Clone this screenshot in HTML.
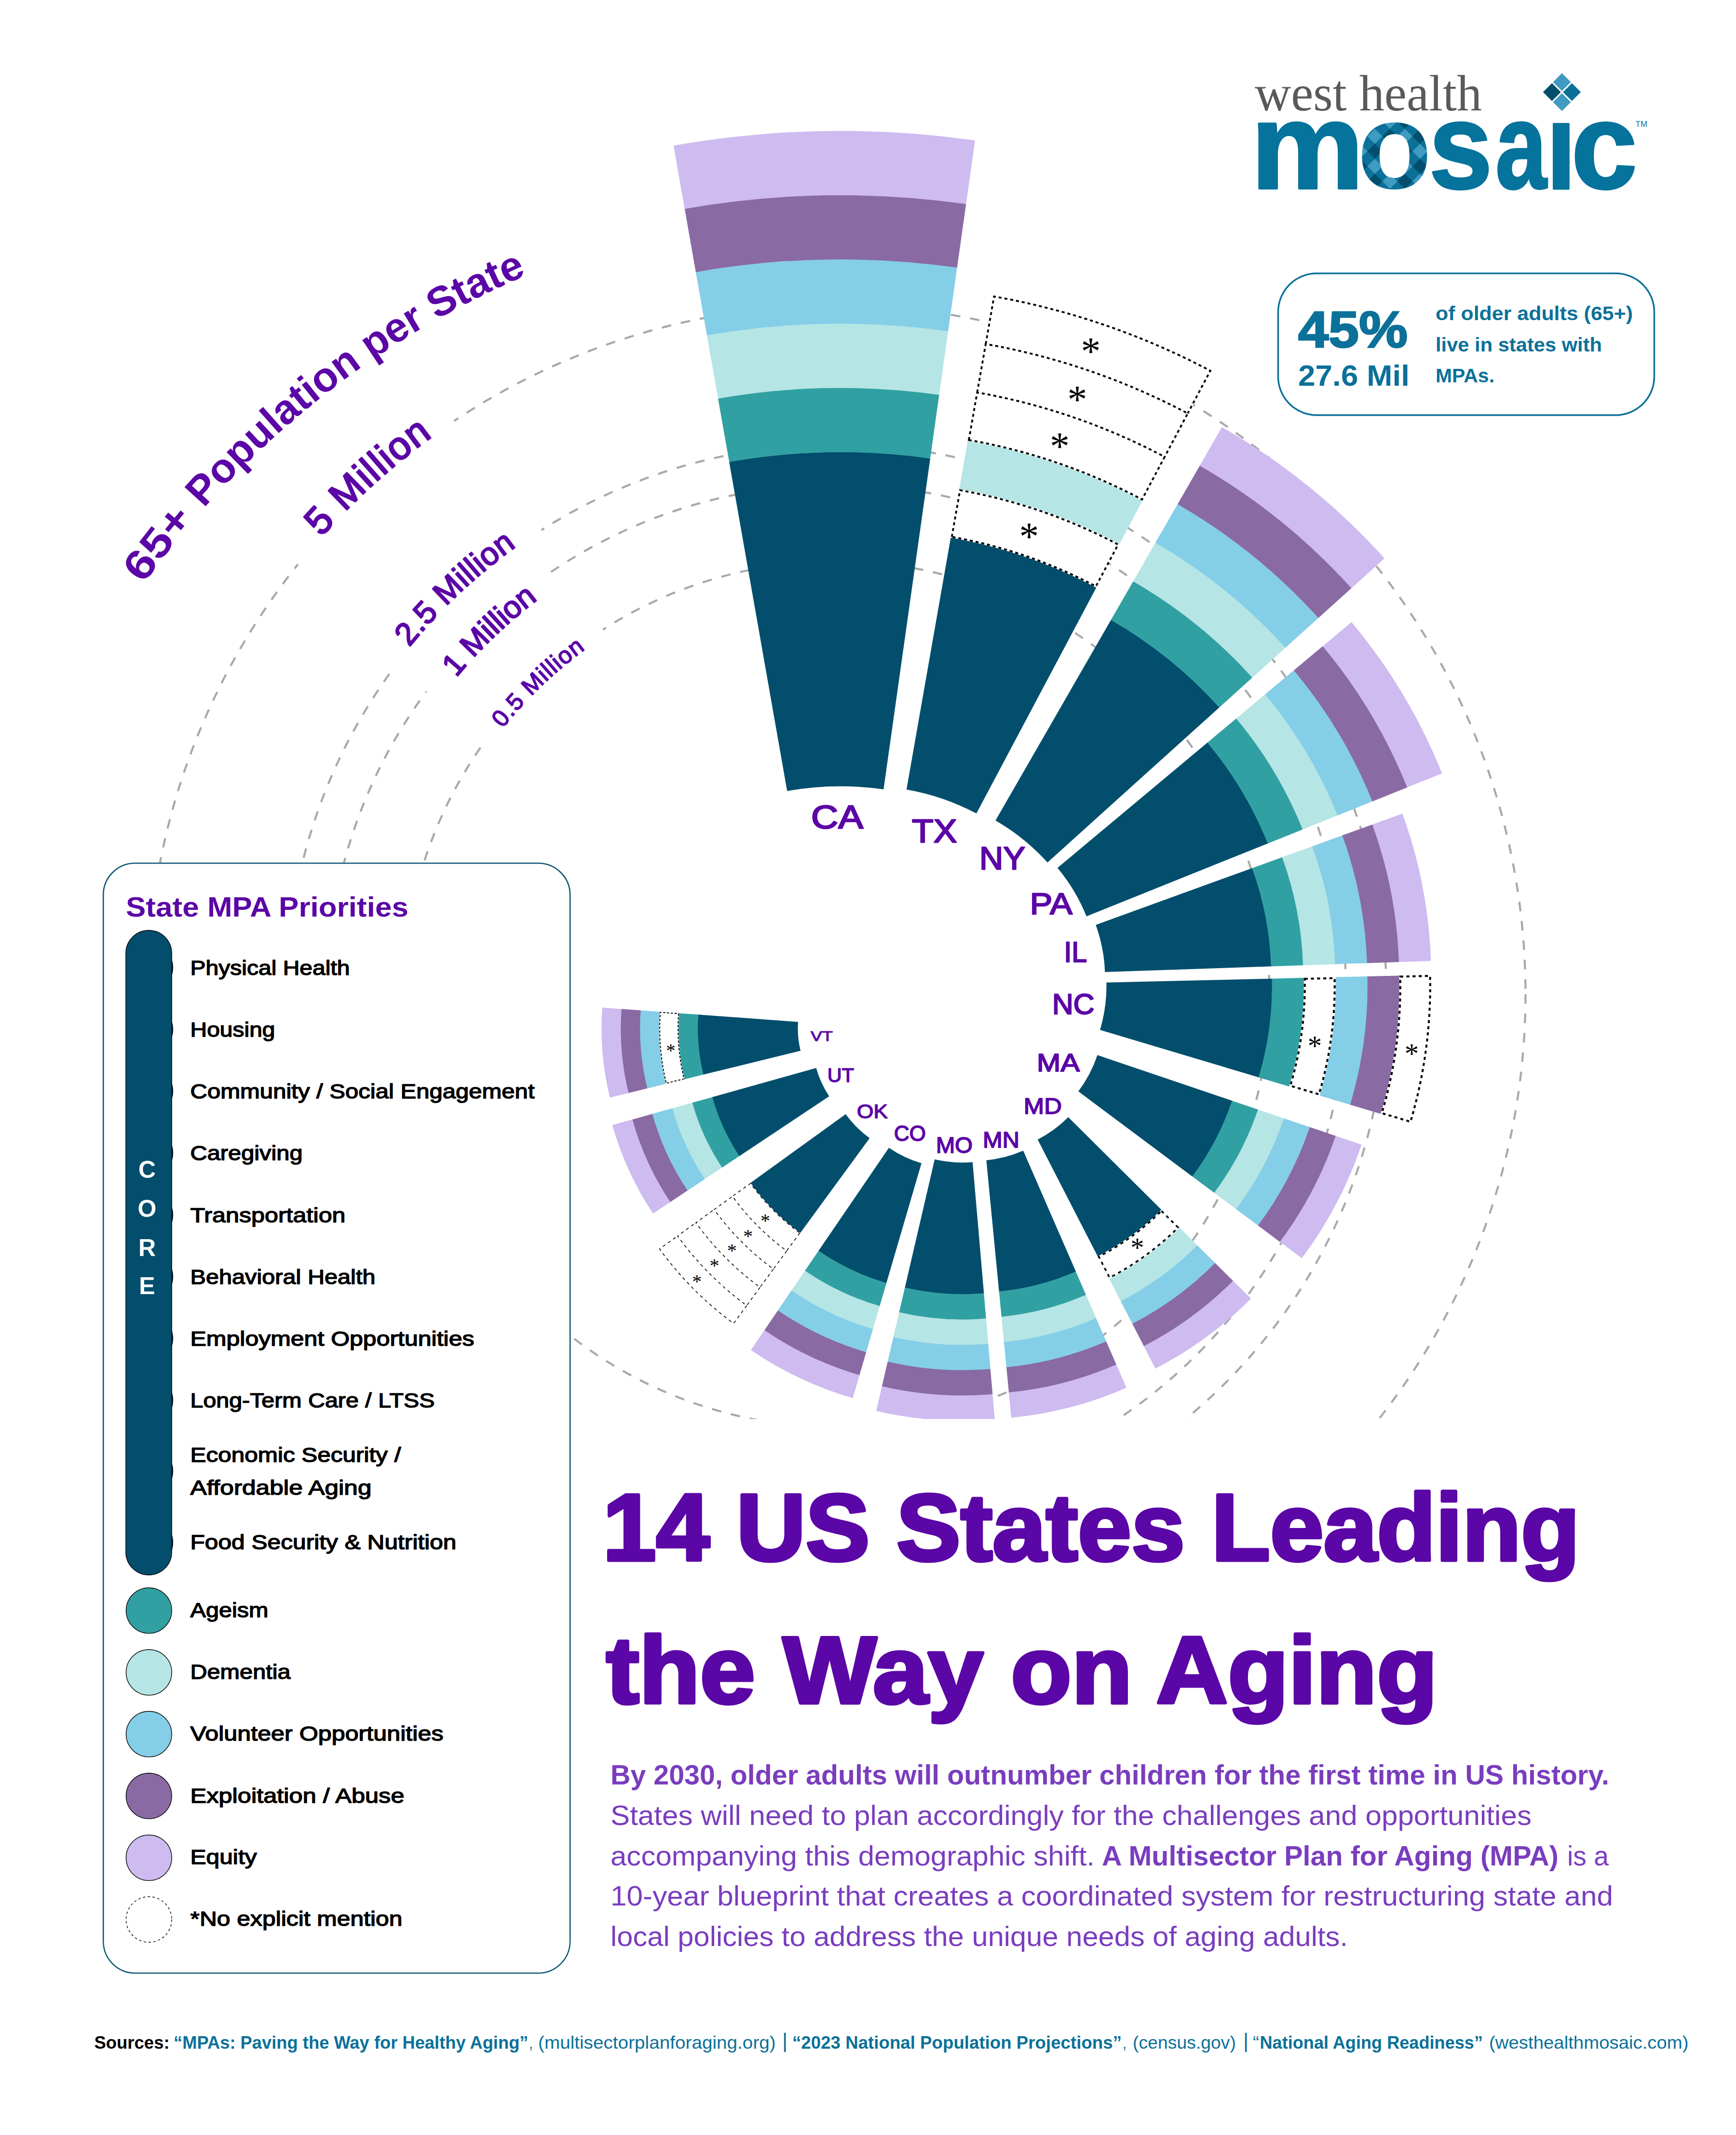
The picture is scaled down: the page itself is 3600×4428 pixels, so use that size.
<!DOCTYPE html>
<html lang="en"><head><meta charset="utf-8"><title>14 US States Leading the Way on Aging</title>
<style>html,body{margin:0;padding:0;background:#fff}svg{display:block}text{font-family:"Liberation Sans",sans-serif}.b{font-weight:bold}.p{fill:#5B06A6}.t{fill:#0B7199}.ast{font-family:"Liberation Serif",serif;fill:#000}.lg{fill:#000;font-size:42px;stroke:#000;stroke-width:1.5px;stroke-linejoin:round}.st{fill:#5B06A6;stroke:#5B06A6;stroke-linejoin:round}.body{fill:#7A3DBE;font-size:58px}.src{fill:#0B7199;font-size:36px}</style></head><body>
<svg width="3600" height="4428" viewBox="0 0 3600 4428">
<defs><clipPath id="clipc"><rect x="0" y="0" width="3600" height="2943"/></clipPath>
<pattern id="chk" width="44" height="44" patternUnits="userSpaceOnUse" patternTransform="translate(2820 236) rotate(45)"><rect width="44" height="44" fill="#0B7199"/><rect width="22" height="22" fill="#3F9BBF"/><rect x="22" y="22" width="22" height="22" fill="#024E6C"/></pattern>
</defs>
<rect width="3600" height="4428" fill="#fff"/>
<g clip-path="url(#clipc)">
<g fill="none" stroke="#A9A9A9" stroke-width="4.3" stroke-dasharray="19.8 20.5">
<circle cx="1734.5" cy="2062.0" r="1429.0"/>
<circle cx="1734.5" cy="2062.0" r="1140.5"/>
<circle cx="1734.5" cy="2062.0" r="1057.0"/>
<circle cx="1734.5" cy="2062.0" r="898.0"/>
</g>
<g>
<path fill="#024E6C" d="M1632.3 1640.4L1512.1 957.7A1332.8 1332.8 0 0 1 1929.1 950.5L1832.3 1637.0A639.6 639.6 0 0 0 1632.3 1640.4Z"/>
<path fill="#31A0A3" d="M1512.2 958.1L1489.0 826.4A1466.0 1466.0 0 0 1 1947.6 818.6L1929.0 950.9A1332.4 1332.4 0 0 0 1512.2 958.1Z"/>
<path fill="#B5E5E4" d="M1489.1 826.8L1465.9 695.2A1599.3 1599.3 0 0 1 1966.2 686.7L1947.6 819.0A1465.6 1465.6 0 0 0 1489.1 826.8Z"/>
<path fill="#84CEE8" d="M1466.0 695.6L1442.8 564.0A1732.5 1732.5 0 0 1 1984.8 554.7L1966.2 687.1A1598.9 1598.9 0 0 0 1466.0 695.6Z"/>
<path fill="#8A6AA3" d="M1442.9 564.4L1419.8 432.8A1865.8 1865.8 0 0 1 2003.4 422.8L1984.8 555.1A1732.1 1732.1 0 0 0 1442.9 564.4Z"/>
<path fill="#CEBBEF" d="M1419.8 433.2L1396.7 301.9A1998.6 1998.6 0 0 1 2021.9 291.2L2003.4 423.2A1865.4 1865.4 0 0 0 1419.8 433.2Z"/>
</g>
<g>
<path fill="#024E6C" d="M1879.9 1637.4L1971.7 1114.6A1020.4 1020.4 0 0 1 2273.6 1218.3L2024.8 1687.1A489.6 489.6 0 0 0 1879.9 1637.4Z"/>
<path fill="#B5E5E4" d="M1989.3 1014.5L2007.0 913.7A1224.4 1224.4 0 0 1 2369.3 1038.1L2321.3 1128.6A1122.0 1122.0 0 0 0 1989.3 1014.5Z"/>
<path fill="#fff" d="M1971.6 1115.0L1989.3 1014.5A1122.0 1122.0 0 0 1 2321.3 1128.6L2273.4 1218.7A1020.0 1020.0 0 0 0 1971.6 1115.0Z"/>
<path fill="#fff" d="M2006.9 914.0L2024.5 813.6A1326.0 1326.0 0 0 1 2416.9 948.4L2369.1 1038.5A1224.0 1224.0 0 0 0 2006.9 914.0Z"/>
<path fill="#fff" d="M2024.5 813.6L2042.2 713.1A1428.0 1428.0 0 0 1 2464.7 858.3L2416.9 948.4A1326.0 1326.0 0 0 0 2024.5 813.6Z"/>
<path fill="#fff" d="M2042.2 713.1L2059.8 612.7A1530.0 1530.0 0 0 1 2512.5 768.2L2464.7 858.3A1428.0 1428.0 0 0 0 2042.2 713.1Z"/>
<path fill="none" stroke="#000" stroke-width="3.8" stroke-dasharray="6.2 6.0" d="M1973.8 1113.4L1990.8 1016.7A1120.1 1120.1 0 0 1 2318.7 1129.4L2272.6 1216.1A1021.9 1021.9 0 0 0 1973.8 1113.4ZM2009.1 912.5L2026.4 813.9A1326.0 1326.0 0 0 1 2415.2 947.5L2368.3 1035.9A1225.9 1225.9 0 0 0 2009.1 912.5ZM2026.4 813.9L2044.1 713.5A1428.0 1428.0 0 0 1 2463.0 857.4L2415.2 947.5M2044.1 713.5L2061.4 614.9A1528.1 1528.1 0 0 1 2510.0 769.0L2463.0 857.4"/>
<text x="2133.9" y="1140.2" font-size="82" text-anchor="middle" class="ast">*</text>
<text x="2197.4" y="953.1" font-size="82" text-anchor="middle" class="ast">*</text>
<text x="2233.9" y="856.4" font-size="82" text-anchor="middle" class="ast">*</text>
<text x="2262.0" y="756.4" font-size="82" text-anchor="middle" class="ast">*</text>
</g>
<g>
<path fill="#024E6C" d="M2064.4 1701.7L2304.0 1285.4A923.4 923.4 0 0 1 2528.8 1467.0L2172.2 1788.8A443.0 443.0 0 0 0 2064.4 1701.7Z"/>
<path fill="#31A0A3" d="M2303.8 1285.8L2350.1 1205.5A1015.7 1015.7 0 0 1 2597.3 1405.1L2528.5 1467.3A923.0 923.0 0 0 0 2303.8 1285.8Z"/>
<path fill="#B5E5E4" d="M2349.9 1205.8L2396.1 1125.5A1108.0 1108.0 0 0 1 2665.8 1343.3L2597.0 1405.4A1015.3 1015.3 0 0 0 2349.9 1205.8Z"/>
<path fill="#84CEE8" d="M2395.9 1125.8L2442.2 1045.5A1200.3 1200.3 0 0 1 2734.3 1281.5L2665.5 1343.6A1107.6 1107.6 0 0 0 2395.9 1125.8Z"/>
<path fill="#8A6AA3" d="M2442.0 1045.8L2488.2 965.5A1292.6 1292.6 0 0 1 2802.8 1219.6L2734.0 1281.7A1199.9 1199.9 0 0 0 2442.0 1045.8Z"/>
<path fill="#CEBBEF" d="M2488.0 965.8L2534.1 885.8A1384.5 1384.5 0 0 1 2871.1 1158.0L2802.5 1219.9A1292.2 1292.2 0 0 0 2488.0 965.8Z"/>
</g>
<g>
<path fill="#024E6C" d="M2192.9 1800.1L2504.1 1539.9A779.6 779.6 0 0 1 2629.3 1749.2L2253.0 1900.5A374.0 374.0 0 0 0 2192.9 1800.1Z"/>
<path fill="#31A0A3" d="M2503.8 1540.2L2563.9 1489.9A857.5 857.5 0 0 1 2701.6 1720.2L2629.0 1749.4A779.2 779.2 0 0 0 2503.8 1540.2Z"/>
<path fill="#B5E5E4" d="M2563.6 1490.2L2623.6 1440.0A935.4 935.4 0 0 1 2773.9 1691.1L2701.3 1720.3A857.1 857.1 0 0 0 2563.6 1490.2Z"/>
<path fill="#84CEE8" d="M2623.3 1440.2L2683.4 1390.0A1013.4 1013.4 0 0 1 2846.2 1662.0L2773.6 1691.2A935.0 935.0 0 0 0 2623.3 1440.2Z"/>
<path fill="#8A6AA3" d="M2683.1 1390.2L2743.2 1340.0A1091.3 1091.3 0 0 1 2918.5 1633.0L2845.9 1662.2A1013.0 1013.0 0 0 0 2683.1 1390.2Z"/>
<path fill="#CEBBEF" d="M2742.9 1340.3L2802.7 1290.3A1168.8 1168.8 0 0 1 2990.5 1604.1L2918.2 1633.1A1090.9 1090.9 0 0 0 2742.9 1340.3Z"/>
</g>
<g>
<path fill="#024E6C" d="M2272.3 1918.2L2596.9 1800.4A663.6 663.6 0 0 1 2636.3 2004.2L2291.3 2016.0A318.3 318.3 0 0 0 2272.3 1918.2Z"/>
<path fill="#31A0A3" d="M2596.5 1800.5L2659.2 1777.8A729.9 729.9 0 0 1 2702.6 2002.0L2635.9 2004.2A663.2 663.2 0 0 0 2596.5 1800.5Z"/>
<path fill="#B5E5E4" d="M2658.8 1777.9L2721.6 1755.1A796.2 796.2 0 0 1 2768.9 1999.7L2702.2 2002.0A729.5 729.5 0 0 0 2658.8 1777.9Z"/>
<path fill="#84CEE8" d="M2721.2 1755.3L2783.9 1732.5A862.6 862.6 0 0 1 2835.2 1997.4L2768.5 1999.7A795.8 795.8 0 0 0 2721.2 1755.3Z"/>
<path fill="#8A6AA3" d="M2783.5 1732.6L2846.2 1709.9A928.9 928.9 0 0 1 2901.4 1995.2L2834.8 1997.5A862.2 862.2 0 0 0 2783.5 1732.6Z"/>
<path fill="#CEBBEF" d="M2845.9 1710.0L2908.2 1687.4A994.8 994.8 0 0 1 2967.3 1992.9L2901.0 1995.2A928.5 928.5 0 0 0 2845.9 1710.0Z"/>
</g>
<g>
<path fill="#024E6C" d="M2294.4 2037.7L2638.0 2029.7A660.6 660.6 0 0 1 2610.5 2234.5L2281.2 2136.0A316.9 316.9 0 0 0 2294.4 2037.7Z"/>
<path fill="#31A0A3" d="M2637.6 2029.7L2704.0 2028.1A726.6 726.6 0 0 1 2673.7 2253.4L2610.1 2234.4A660.2 660.2 0 0 0 2637.6 2029.7Z"/>
<path fill="#84CEE8" d="M2769.6 2026.6L2836.0 2025.0A858.7 858.7 0 0 1 2800.2 2291.3L2736.6 2272.2A792.2 792.2 0 0 0 2769.6 2026.6Z"/>
<path fill="#8A6AA3" d="M2835.6 2025.0L2902.0 2023.5A924.7 924.7 0 0 1 2863.5 2310.2L2799.8 2291.2A858.3 858.3 0 0 0 2835.6 2025.0Z"/>
<path fill="#fff" d="M2703.6 2028.1L2769.6 2026.6A792.2 792.2 0 0 1 2736.6 2272.2L2673.3 2253.3A726.2 726.2 0 0 0 2703.6 2028.1Z"/>
<path fill="#fff" d="M2901.6 2023.5L2967.6 2021.9A990.3 990.3 0 0 1 2926.3 2329.0L2863.1 2310.1A924.3 924.3 0 0 0 2901.6 2023.5Z"/>
<path fill="none" stroke="#000" stroke-width="4.1" stroke-dasharray="6.2 6.6" d="M2705.7 2030.1L2767.6 2028.7A790.2 790.2 0 0 1 2735.2 2269.7L2675.9 2251.9A728.3 728.3 0 0 0 2705.7 2030.1ZM2903.7 2025.5L2965.6 2024.0A988.2 988.2 0 0 1 2925.0 2326.5L2865.6 2308.7A926.3 926.3 0 0 0 2903.7 2025.5Z"/>
<text x="2726.5" y="2188.5" font-size="59" text-anchor="middle" class="ast">*</text>
<text x="2927.5" y="2205.1" font-size="59" text-anchor="middle" class="ast">*</text>
</g>
<g>
<path fill="#024E6C" d="M2275.8 2188.2L2555.4 2283.1A567.4 567.4 0 0 1 2472.8 2440.2L2236.2 2263.6A272.2 272.2 0 0 0 2275.8 2188.2Z"/>
<path fill="#31A0A3" d="M2555.0 2283.0L2609.1 2301.3A624.1 624.1 0 0 1 2518.2 2474.1L2472.5 2440.0A567.0 567.0 0 0 0 2555.0 2283.0Z"/>
<path fill="#B5E5E4" d="M2608.7 2301.2L2662.8 2319.5A680.8 680.8 0 0 1 2563.7 2508.0L2517.9 2473.9A623.7 623.7 0 0 0 2608.7 2301.2Z"/>
<path fill="#84CEE8" d="M2662.4 2319.4L2716.5 2337.7A737.5 737.5 0 0 1 2609.1 2542.0L2563.3 2507.8A680.4 680.4 0 0 0 2662.4 2319.4Z"/>
<path fill="#8A6AA3" d="M2716.1 2337.6L2770.2 2356.0A794.2 794.2 0 0 1 2654.5 2575.9L2608.8 2541.7A737.1 737.1 0 0 0 2716.1 2337.6Z"/>
<path fill="#CEBBEF" d="M2769.8 2355.8L2823.5 2374.0A850.5 850.5 0 0 1 2699.7 2609.6L2654.2 2575.6A793.8 793.8 0 0 0 2769.8 2355.8Z"/>
</g>
<g>
<path fill="#024E6C" d="M2215.3 2317.1L2408.7 2509.2A523.9 523.9 0 0 1 2276.5 2606.0L2151.9 2363.5A251.3 251.3 0 0 0 2215.3 2317.1Z"/>
<path fill="#B5E5E4" d="M2445.6 2545.8L2483.0 2582.9A628.6 628.6 0 0 1 2324.3 2699.1L2300.2 2652.2A575.9 575.9 0 0 0 2445.6 2545.8Z"/>
<path fill="#84CEE8" d="M2482.8 2582.7L2520.2 2619.8A681.0 681.0 0 0 1 2348.3 2745.6L2324.1 2698.7A628.2 628.2 0 0 0 2482.8 2582.7Z"/>
<path fill="#8A6AA3" d="M2519.9 2619.5L2557.3 2656.7A733.3 733.3 0 0 1 2372.2 2792.2L2348.1 2745.3A680.6 680.6 0 0 0 2519.9 2619.5Z"/>
<path fill="#CEBBEF" d="M2557.0 2656.4L2594.2 2693.3A785.2 785.2 0 0 1 2395.9 2838.4L2372.0 2791.9A732.9 732.9 0 0 0 2557.0 2656.4Z"/>
<path fill="#fff" d="M2408.5 2508.9L2445.6 2545.8A575.9 575.9 0 0 1 2300.2 2652.2L2276.3 2605.6A523.5 523.5 0 0 0 2408.5 2508.9Z"/>
<path fill="none" stroke="#000" stroke-width="3.5" stroke-dasharray="6.6 7.6" d="M2408.5 2511.4L2443.1 2545.8A574.1 574.1 0 0 1 2301.0 2649.8L2278.6 2606.4A525.2 525.2 0 0 0 2408.5 2511.4Z"/>
<text x="2358.4" y="2607.1" font-size="56" text-anchor="middle" class="ast">*</text>
</g>
<g>
<path fill="#024E6C" d="M2121.9 2386.6L2231.2 2637.6A526.2 526.2 0 0 1 2071.8 2679.0L2045.4 2406.4A252.4 252.4 0 0 0 2121.9 2386.6Z"/>
<path fill="#31A0A3" d="M2231.0 2637.3L2252.2 2685.9A578.8 578.8 0 0 1 2076.9 2731.3L2071.8 2678.6A525.8 525.8 0 0 0 2231.0 2637.3Z"/>
<path fill="#B5E5E4" d="M2252.0 2685.5L2273.2 2734.1A631.4 631.4 0 0 1 2081.9 2783.6L2076.8 2730.9A578.4 578.4 0 0 0 2252.0 2685.5Z"/>
<path fill="#84CEE8" d="M2273.0 2733.7L2294.1 2782.3A683.9 683.9 0 0 1 2087.0 2836.0L2081.9 2783.2A631.0 631.0 0 0 0 2273.0 2733.7Z"/>
<path fill="#8A6AA3" d="M2294.0 2781.9L2315.1 2830.5A736.5 736.5 0 0 1 2092.1 2888.3L2087.0 2835.6A683.5 683.5 0 0 0 2294.0 2781.9Z"/>
<path fill="#CEBBEF" d="M2315.0 2830.1L2336.0 2878.3A788.7 788.7 0 0 1 2097.1 2940.2L2092.0 2887.9A736.1 736.1 0 0 0 2315.0 2830.1Z"/>
</g>
<g>
<path fill="#024E6C" d="M2016.9 2410.2L2040.4 2682.7A525.5 525.5 0 0 1 1876.4 2671.0L1938.3 2404.6A252.0 252.0 0 0 0 2016.9 2410.2Z"/>
<path fill="#31A0A3" d="M2040.3 2682.3L2044.9 2735.0A578.0 578.0 0 0 1 1864.5 2722.1L1876.5 2670.6A525.1 525.1 0 0 0 2040.3 2682.3Z"/>
<path fill="#B5E5E4" d="M2044.8 2734.6L2049.4 2787.3A630.5 630.5 0 0 1 1852.6 2773.3L1864.6 2721.7A577.6 577.6 0 0 0 2044.8 2734.6Z"/>
<path fill="#84CEE8" d="M2049.3 2786.9L2053.9 2839.6A683.0 683.0 0 0 1 1840.7 2824.4L1852.7 2772.9A630.1 630.1 0 0 0 2049.3 2786.9Z"/>
<path fill="#8A6AA3" d="M2053.8 2839.2L2058.4 2891.9A735.5 735.5 0 0 1 1828.8 2875.6L1840.8 2824.0A682.6 682.6 0 0 0 2053.8 2839.2Z"/>
<path fill="#CEBBEF" d="M2058.3 2891.5L2062.9 2943.8A787.6 787.6 0 0 1 1817.0 2926.3L1828.9 2875.2A735.1 735.1 0 0 0 2058.3 2891.5Z"/>
</g>
<g>
<path fill="#024E6C" d="M1910.9 2412.4L1838.1 2661.3A498.3 498.3 0 0 1 1697.2 2594.6L1843.3 2380.4A239.0 239.0 0 0 0 1910.9 2412.4Z"/>
<path fill="#31A0A3" d="M1838.3 2660.9L1824.2 2709.1A548.1 548.1 0 0 1 1669.1 2635.8L1697.4 2594.3A497.9 497.9 0 0 0 1838.3 2660.9Z"/>
<path fill="#B5E5E4" d="M1824.3 2708.7L1810.2 2756.8A597.9 597.9 0 0 1 1641.1 2676.9L1669.4 2635.4A547.7 547.7 0 0 0 1824.3 2708.7Z"/>
<path fill="#84CEE8" d="M1810.3 2756.5L1796.2 2804.6A647.7 647.7 0 0 1 1613.0 2718.0L1641.3 2676.6A597.5 597.5 0 0 0 1810.3 2756.5Z"/>
<path fill="#8A6AA3" d="M1796.3 2804.3L1782.2 2852.4A697.5 697.5 0 0 1 1585.0 2759.2L1613.2 2717.7A647.3 647.3 0 0 0 1796.3 2804.3Z"/>
<path fill="#CEBBEF" d="M1782.4 2852.0L1768.4 2899.8A746.9 746.9 0 0 1 1557.1 2800.0L1585.2 2758.8A697.1 697.1 0 0 0 1782.4 2852.0Z"/>
</g>
<g>
<path fill="#024E6C" d="M1803.4 2360.6L1659.4 2557.4A468.5 468.5 0 0 1 1556.1 2453.4L1753.8 2310.7A224.7 224.7 0 0 0 1803.4 2360.6Z"/>
<path fill="#fff" d="M1659.7 2557.0L1632.0 2594.8A514.9 514.9 0 0 1 1518.5 2480.5L1556.4 2453.2A468.1 468.1 0 0 0 1659.7 2557.0Z"/>
<path fill="#fff" d="M1632.0 2594.8L1604.4 2632.6A561.7 561.7 0 0 1 1480.5 2507.9L1518.5 2480.5A514.9 514.9 0 0 0 1632.0 2594.8Z"/>
<path fill="#fff" d="M1604.4 2632.6L1576.8 2670.4A608.5 608.5 0 0 1 1442.6 2535.3L1480.5 2507.9A561.7 561.7 0 0 0 1604.4 2632.6Z"/>
<path fill="#fff" d="M1576.8 2670.4L1549.1 2708.2A655.3 655.3 0 0 1 1404.6 2562.7L1442.6 2535.3A608.5 608.5 0 0 0 1576.8 2670.4Z"/>
<path fill="#fff" d="M1549.1 2708.2L1521.5 2746.0A702.2 702.2 0 0 1 1366.7 2590.1L1404.6 2562.7A655.3 655.3 0 0 0 1549.1 2708.2Z"/>
<path fill="none" stroke="#000" stroke-width="1.6" stroke-dasharray="6.3 6.7" d="M1658.6 2557.2L1631.4 2594.3A514.9 514.9 0 0 1 1518.9 2481.2L1556.3 2454.3A468.9 468.9 0 0 0 1658.6 2557.2ZM1631.4 2594.3L1603.8 2632.1A561.7 561.7 0 0 1 1481.0 2508.6L1518.9 2481.2M1603.8 2632.1L1576.1 2669.9A608.5 608.5 0 0 1 1443.0 2536.0L1481.0 2508.6M1576.1 2669.9L1548.5 2707.7A655.3 655.3 0 0 1 1405.1 2563.4L1443.0 2536.0M1548.5 2707.7L1521.3 2744.8A701.4 701.4 0 0 1 1367.8 2590.3L1405.1 2563.4"/>
<text x="1587.1" y="2545.2" font-size="40" text-anchor="middle" class="ast">*</text>
<text x="1551.2" y="2577.4" font-size="40" text-anchor="middle" class="ast">*</text>
<text x="1517.7" y="2606.9" font-size="40" text-anchor="middle" class="ast">*</text>
<text x="1481.4" y="2638.3" font-size="40" text-anchor="middle" class="ast">*</text>
<text x="1445.2" y="2671.0" font-size="40" text-anchor="middle" class="ast">*</text>
</g>
<g>
<path fill="#024E6C" d="M1719.5 2273.7L1532.9 2397.9A430.7 430.7 0 0 1 1476.7 2275.5L1692.5 2215.0A206.5 206.5 0 0 0 1719.5 2273.7Z"/>
<path fill="#31A0A3" d="M1533.2 2397.7L1497.1 2421.8A473.7 473.7 0 0 1 1435.3 2287.1L1477.1 2275.4A430.3 430.3 0 0 0 1533.2 2397.7Z"/>
<path fill="#B5E5E4" d="M1497.4 2421.5L1461.3 2445.6A516.8 516.8 0 0 1 1393.8 2298.7L1435.6 2287.0A473.3 473.3 0 0 0 1497.4 2421.5Z"/>
<path fill="#84CEE8" d="M1461.6 2445.4L1425.5 2469.5A559.8 559.8 0 0 1 1352.4 2310.3L1394.2 2298.6A516.4 516.4 0 0 0 1461.6 2445.4Z"/>
<path fill="#8A6AA3" d="M1425.8 2469.2L1389.6 2493.3A602.8 602.8 0 0 1 1311.0 2321.9L1352.8 2310.2A559.4 559.4 0 0 0 1425.8 2469.2Z"/>
<path fill="#CEBBEF" d="M1390.0 2493.1L1354.2 2516.9A645.5 645.5 0 0 1 1269.9 2333.4L1311.3 2321.8A602.4 602.4 0 0 0 1390.0 2493.1Z"/>
</g>
<g>
<path fill="#024E6C" d="M1660.1 2179.2L1458.2 2228.8A399.5 399.5 0 0 1 1447.7 2104.3L1655.0 2119.4A191.6 191.6 0 0 0 1660.1 2179.2Z"/>
<path fill="#31A0A3" d="M1458.6 2228.7L1419.4 2238.4A439.4 439.4 0 0 1 1407.9 2101.4L1448.1 2104.3A399.1 399.1 0 0 0 1458.6 2228.7Z"/>
<path fill="#84CEE8" d="M1381.0 2247.8L1341.9 2257.4A519.2 519.2 0 0 1 1328.3 2095.6L1368.5 2098.5A478.9 478.9 0 0 0 1381.0 2247.8Z"/>
<path fill="#8A6AA3" d="M1342.3 2257.3L1303.1 2267.0A559.1 559.1 0 0 1 1288.4 2092.6L1328.7 2095.6A518.8 518.8 0 0 0 1342.3 2257.3Z"/>
<path fill="#CEBBEF" d="M1303.5 2266.9L1264.8 2276.4A598.6 598.6 0 0 1 1249.0 2089.8L1288.8 2092.7A558.7 558.7 0 0 0 1303.5 2266.9Z"/>
<path fill="#fff" d="M1419.8 2238.3L1381.0 2247.8A478.9 478.9 0 0 1 1368.5 2098.5L1408.3 2101.4A439.0 439.0 0 0 0 1419.8 2238.3Z"/>
<path fill="none" stroke="#000" stroke-width="1.9" stroke-dasharray="4.6 3.4" d="M1418.6 2237.6L1381.7 2246.7A478.0 478.0 0 0 1 1369.3 2099.5L1407.2 2102.3A440.0 440.0 0 0 0 1418.6 2237.6Z"/>
<text x="1391.0" y="2191.5" font-size="39" text-anchor="middle" class="ast">*</text>
</g>
</g>
<path d="M617.8 1170.4A1429.0 1429.0 0 0 1 941.7 873.1" fill="none" stroke="#fff" stroke-width="14"/>
<path id="lp0" d="M431.0 1478.9A1428.0 1428.0 0 0 1 897.2 905.3" fill="none"/>
<text class="p" font-size="80" stroke="#5B06A6" stroke-width="3.2" stroke-linejoin="round"><textPath href="#lp0" startOffset="435.7" textLength="312" lengthAdjust="spacing">5 Million</textPath></text>
<path d="M813.5 1389.3A1140.5 1140.5 0 0 1 1122.7 1099.5" fill="none" stroke="#fff" stroke-width="14"/>
<path id="lp1" d="M695.8 1589.7A1141.0 1141.0 0 0 1 1071.1 1133.7" fill="none"/>
<text class="p" font-size="66" stroke="#5B06A6" stroke-width="2.6" stroke-linejoin="round"><textPath href="#lp1" startOffset="291.4" textLength="306" lengthAdjust="spacing">2.5 Million</textPath></text>
<path d="M884.1 1434.3A1057.0 1057.0 0 0 1 1135.8 1190.9" fill="none" stroke="#fff" stroke-width="14"/>
<path id="lp2" d="M789.4 1662.8A1026.0 1026.0 0 0 1 1115.6 1243.7" fill="none"/>
<text class="p" font-size="64" stroke="#5B06A6" stroke-width="2.6" stroke-linejoin="round"><textPath href="#lp2" startOffset="302.2" textLength="235" lengthAdjust="spacing">1 Million</textPath></text>
<path d="M1007.7 1534.6A898.0 898.0 0 0 1 1250.2 1305.8" fill="none" stroke="#fff" stroke-width="14"/>
<path id="lp3" d="M926.2 1702.9A884.5 884.5 0 0 1 1214.0 1346.9" fill="none"/>
<text class="p" font-size="49" stroke="#5B06A6" stroke-width="2.0" stroke-linejoin="round"><textPath href="#lp3" startOffset="225.1" textLength="238" lengthAdjust="spacing">0.5 Million</textPath></text>
<path id="lpt" d="M254.1 1276.4A1885.0 1885.0 0 0 1 1190.3 531.7" fill="none"/>
<text class="b p" font-size="86"><textPath href="#lpt" startOffset="78" textLength="171" lengthAdjust="spacingAndGlyphs">65+</textPath><textPath href="#lpt" startOffset="279" textLength="833" lengthAdjust="spacing">Population per State</textPath></text>
<text class="st" x="1682.0" y="1718.4" font-size="68" stroke-width="2.7" textLength="108.0" lengthAdjust="spacingAndGlyphs">CA</text>
<text class="st" x="1891.0" y="1746.9" font-size="68" stroke-width="2.7" textLength="93.5" lengthAdjust="spacingAndGlyphs">TX</text>
<text class="st" x="2031.0" y="1803.0" font-size="66" stroke-width="2.6" textLength="95.0" lengthAdjust="spacingAndGlyphs">NY</text>
<text class="st" x="2135.7" y="1895.5" font-size="63" stroke-width="2.5" textLength="88.1" lengthAdjust="spacingAndGlyphs">PA</text>
<text class="st" x="2206.6" y="1994.8" font-size="59" stroke-width="2.4" textLength="47.4" lengthAdjust="spacingAndGlyphs">IL</text>
<text class="st" x="2182.0" y="2102.8" font-size="59" stroke-width="2.4" textLength="87.6" lengthAdjust="spacingAndGlyphs">NC</text>
<text class="st" x="2150.0" y="2222.0" font-size="52" stroke-width="2.1" textLength="89.0" lengthAdjust="spacingAndGlyphs">MA</text>
<text class="st" x="2122.7" y="2310.0" font-size="47" stroke-width="1.9" textLength="79.3" lengthAdjust="spacingAndGlyphs">MD</text>
<text class="st" x="2038.0" y="2380.0" font-size="46" stroke-width="1.8" textLength="76.0" lengthAdjust="spacingAndGlyphs">MN</text>
<text class="st" x="1941.0" y="2390.5" font-size="46" stroke-width="1.8" textLength="76.0" lengthAdjust="spacingAndGlyphs">MO</text>
<text class="st" x="1854.0" y="2366.0" font-size="45" stroke-width="1.8" textLength="65.7" lengthAdjust="spacingAndGlyphs">CO</text>
<text class="st" x="1777.0" y="2318.8" font-size="41" stroke-width="1.6" textLength="64.0" lengthAdjust="spacingAndGlyphs">OK</text>
<text class="st" x="1715.8" y="2243.7" font-size="40" stroke-width="1.6" textLength="55.2" lengthAdjust="spacingAndGlyphs">UT</text>
<text class="st" x="1681.0" y="2159.0" font-size="30" stroke-width="1.2" textLength="46.0" lengthAdjust="spacingAndGlyphs">VT</text>
<g id="logo">
<text x="2602" y="228.5" font-size="105" fill="#58595B" style="font-family:'Liberation Serif',serif" textLength="471" lengthAdjust="spacingAndGlyphs">west health</text>
<text y="391" font-size="255" class="b" fill="#05739B" stroke="#05739B" stroke-width="4" stroke-linejoin="round"><tspan x="2593.1" textLength="235.8" lengthAdjust="spacingAndGlyphs">m</tspan><tspan x="2814.5" fill="url(#chk)" stroke="none" textLength="154.7" lengthAdjust="spacingAndGlyphs">o</tspan><tspan x="2963.1" textLength="132.1" lengthAdjust="spacingAndGlyphs">s</tspan><tspan x="3101" textLength="106.6" lengthAdjust="spacingAndGlyphs">a</tspan><tspan x="3206.1" textLength="63.1" lengthAdjust="spacingAndGlyphs">i</tspan><tspan x="3258.1" textLength="137.5" lengthAdjust="spacingAndGlyphs">c</tspan></text>
<rect x="3212" y="140" width="52" height="106" fill="#fff"/>
<path fill="#3F9BBF" d="M3239.0 151.8L3257.5 170.3L3239.0 188.8L3220.5 170.3Z"/>
<path fill="#024E6C" d="M3218.3 172.5L3236.8 191.0L3218.3 209.5L3199.8 191.0Z"/>
<path fill="#0B7199" d="M3259.7 172.5L3278.2 191.0L3259.7 209.5L3241.2 191.0Z"/>
<path fill="#3F9BBF" d="M3239.0 193.2L3257.5 211.7L3239.0 230.2L3220.5 211.7Z"/>
<text x="3391.5" y="263" font-size="17" fill="#05739B">TM</text>
</g>
<rect x="2650.5" y="567" width="780" height="294" rx="80" ry="80" fill="#fff" stroke="#0B7199" stroke-width="3.5"/>
<text class="b t" x="2692" y="719.6" font-size="106" textLength="227" lengthAdjust="spacingAndGlyphs" stroke="#0B7199" stroke-width="3" paint-order="stroke">45%</text>
<text class="b t" x="2692" y="800" font-size="61" textLength="231" lengthAdjust="spacingAndGlyphs">27.6 Mil</text>
<text class="b t" x="2977" y="664" font-size="41" textLength="409" lengthAdjust="spacingAndGlyphs">of older adults (65+)</text>
<text class="b t" x="2977" y="729" font-size="41" textLength="345" lengthAdjust="spacingAndGlyphs">live in states with</text>
<text class="b t" x="2977" y="793" font-size="41" textLength="122" lengthAdjust="spacingAndGlyphs">MPAs.</text>
<rect x="214.2" y="1790.2" width="968" height="2302" rx="66" ry="66" fill="#fff" stroke="#0D5873" stroke-width="2.6"/>
<text class="b p" x="261" y="1901" font-size="58" textLength="586" lengthAdjust="spacingAndGlyphs">State MPA Priorities</text>
<circle cx="311" cy="2007" r="47.4" fill="#024E6C" stroke="#000" stroke-width="1.4"/>
<circle cx="311" cy="2135" r="47.4" fill="#024E6C" stroke="#000" stroke-width="1.4"/>
<circle cx="311" cy="2263" r="47.4" fill="#024E6C" stroke="#000" stroke-width="1.4"/>
<circle cx="311" cy="2391" r="47.4" fill="#024E6C" stroke="#000" stroke-width="1.4"/>
<circle cx="311" cy="2520" r="47.4" fill="#024E6C" stroke="#000" stroke-width="1.4"/>
<circle cx="311" cy="2648" r="47.4" fill="#024E6C" stroke="#000" stroke-width="1.4"/>
<circle cx="311" cy="2776" r="47.4" fill="#024E6C" stroke="#000" stroke-width="1.4"/>
<circle cx="311" cy="2904" r="47.4" fill="#024E6C" stroke="#000" stroke-width="1.4"/>
<circle cx="311" cy="3051" r="47.4" fill="#024E6C" stroke="#000" stroke-width="1.4"/>
<circle cx="311" cy="3199" r="47.4" fill="#024E6C" stroke="#000" stroke-width="1.4"/>
<rect x="260.9" y="1929.5" width="95.2" height="1337" rx="47.6" ry="47.6" fill="#024E6C" stroke="#000" stroke-width="1.4"/>
<text x="305" y="2443" font-size="50" fill="#fff" text-anchor="middle" class="b">C</text>
<text x="305" y="2524" font-size="50" fill="#fff" text-anchor="middle" class="b">O</text>
<text x="305" y="2605" font-size="50" fill="#fff" text-anchor="middle" class="b">R</text>
<text x="305" y="2684" font-size="50" fill="#fff" text-anchor="middle" class="b">E</text>
<text class="lg" x="394.5" y="2021.8" textLength="331" lengthAdjust="spacingAndGlyphs">Physical Health</text>
<text class="lg" x="394.5" y="2150.0" textLength="176" lengthAdjust="spacingAndGlyphs">Housing</text>
<text class="lg" x="394.5" y="2278.2" textLength="714" lengthAdjust="spacingAndGlyphs">Community / Social Engagement</text>
<text class="lg" x="394.5" y="2406.4" textLength="233" lengthAdjust="spacingAndGlyphs">Caregiving</text>
<text class="lg" x="394.5" y="2534.6" textLength="322" lengthAdjust="spacingAndGlyphs">Transportation</text>
<text class="lg" x="394.5" y="2662.8" textLength="384" lengthAdjust="spacingAndGlyphs">Behavioral Health</text>
<text class="lg" x="394.5" y="2791.0" textLength="589" lengthAdjust="spacingAndGlyphs">Employment Opportunities</text>
<text class="lg" x="394.5" y="2919.2" textLength="507" lengthAdjust="spacingAndGlyphs">Long-Term Care / LTSS</text>
<text class="lg" x="394.5" y="3031.8" textLength="437" lengthAdjust="spacingAndGlyphs">Economic Security /</text>
<text class="lg" x="394.5" y="3100.0" textLength="376" lengthAdjust="spacingAndGlyphs">Affordable Aging</text>
<text class="lg" x="394.5" y="3213.0" textLength="552" lengthAdjust="spacingAndGlyphs">Food Security &amp; Nutrition</text>
<text class="lg" x="394.5" y="3354.0" textLength="162" lengthAdjust="spacingAndGlyphs">Ageism</text>
<text class="lg" x="394.5" y="3482.0" textLength="208" lengthAdjust="spacingAndGlyphs">Dementia</text>
<text class="lg" x="394.5" y="3610.4" textLength="525" lengthAdjust="spacingAndGlyphs">Volunteer Opportunities</text>
<text class="lg" x="394.5" y="3738.6" textLength="444" lengthAdjust="spacingAndGlyphs">Exploitation / Abuse</text>
<text class="lg" x="394.5" y="3865.6" textLength="138" lengthAdjust="spacingAndGlyphs">Equity</text>
<text class="lg" x="394.5" y="3993.8" textLength="440" lengthAdjust="spacingAndGlyphs">*No explicit mention</text>
<circle cx="308.8" cy="3340.3" r="47.3" fill="#31A0A3" stroke="#000" stroke-width="1.4"/>
<circle cx="308.8" cy="3468.5" r="47.3" fill="#B5E5E4" stroke="#000" stroke-width="1.4"/>
<circle cx="308.8" cy="3596.6" r="47.3" fill="#84CEE8" stroke="#000" stroke-width="1.4"/>
<circle cx="308.8" cy="3724.8" r="47.3" fill="#8A6AA3" stroke="#000" stroke-width="1.4"/>
<circle cx="308.8" cy="3853.0" r="47.3" fill="#CEBBEF" stroke="#000" stroke-width="1.4"/>
<circle cx="308.8" cy="3981" r="47.3" fill="#fff" stroke="#000" stroke-width="1.4" stroke-dasharray="5 5"/>
<text class="b p" x="1250" y="3236.4" font-size="196" textLength="2026" lengthAdjust="spacingAndGlyphs" stroke="#5B06A6" stroke-width="7" stroke-linejoin="round" paint-order="stroke">14 US States Leading</text>
<text class="b p" x="1257" y="3532.0" font-size="196" textLength="1724" lengthAdjust="spacingAndGlyphs" stroke="#5B06A6" stroke-width="7" stroke-linejoin="round" paint-order="stroke">the Way on Aging</text>
<text class="body" x="1266" y="3701" font-weight="bold" textLength="2071" lengthAdjust="spacingAndGlyphs">By 2030, older adults will outnumber children for the first time in US history.</text>
<text class="body" x="1266" y="3785" textLength="1910" lengthAdjust="spacingAndGlyphs">States will need to plan accordingly for the challenges and opportunities</text>
<text class="body" x="1266" y="3868.5"><tspan textLength="1004" lengthAdjust="spacingAndGlyphs">accompanying this demographic shift.</tspan><tspan x="2285" font-weight="bold" textLength="947" lengthAdjust="spacingAndGlyphs">A Multisector Plan for Aging (MPA)</tspan><tspan x="3250" textLength="86" lengthAdjust="spacingAndGlyphs">is a</tspan></text>
<text class="body" x="1266" y="3952" textLength="2079" lengthAdjust="spacingAndGlyphs">10-year blueprint that creates a coordinated system for restructuring state and</text>
<text class="body" x="1266" y="4036" textLength="1529" lengthAdjust="spacingAndGlyphs">local policies to address the unique needs of aging adults.</text>
<text class="src" y="4248.5">
<tspan x="195.4" textLength="156.2" lengthAdjust="spacingAndGlyphs" font-weight="bold" fill="#000">Sources:</tspan>
<tspan x="360.0" textLength="735.5" lengthAdjust="spacingAndGlyphs" font-weight="bold">“MPAs: Paving the Way for Healthy Aging”</tspan>
<tspan x="1097.0" textLength="8.0" lengthAdjust="spacingAndGlyphs">,</tspan>
<tspan x="1116.0" textLength="492.7" lengthAdjust="spacingAndGlyphs">(multisectorplanforaging.org)</tspan>
<tspan x="1622.0" dy="-1.5" font-size="43">|</tspan><tspan dy="1.5" font-size="36"> </tspan>
<tspan x="1643.0" textLength="683.0" lengthAdjust="spacingAndGlyphs" font-weight="bold">“2023 National Population Projections”</tspan>
<tspan x="2328.0" textLength="8.0" lengthAdjust="spacingAndGlyphs">,</tspan>
<tspan x="2349.0" textLength="214.0" lengthAdjust="spacingAndGlyphs">(census.gov)</tspan>
<tspan x="2578.0" dy="-1.5" font-size="43">|</tspan><tspan dy="1.5" font-size="36"> </tspan>
<tspan x="2598.0" textLength="13.0" lengthAdjust="spacingAndGlyphs">“</tspan>
<tspan x="2612.5" textLength="462.5" lengthAdjust="spacingAndGlyphs" font-weight="bold">National Aging Readiness”</tspan>
<tspan x="3088.0" textLength="413.6" lengthAdjust="spacingAndGlyphs">(westhealthmosaic.com)</tspan>
</text>
</svg></body></html>
